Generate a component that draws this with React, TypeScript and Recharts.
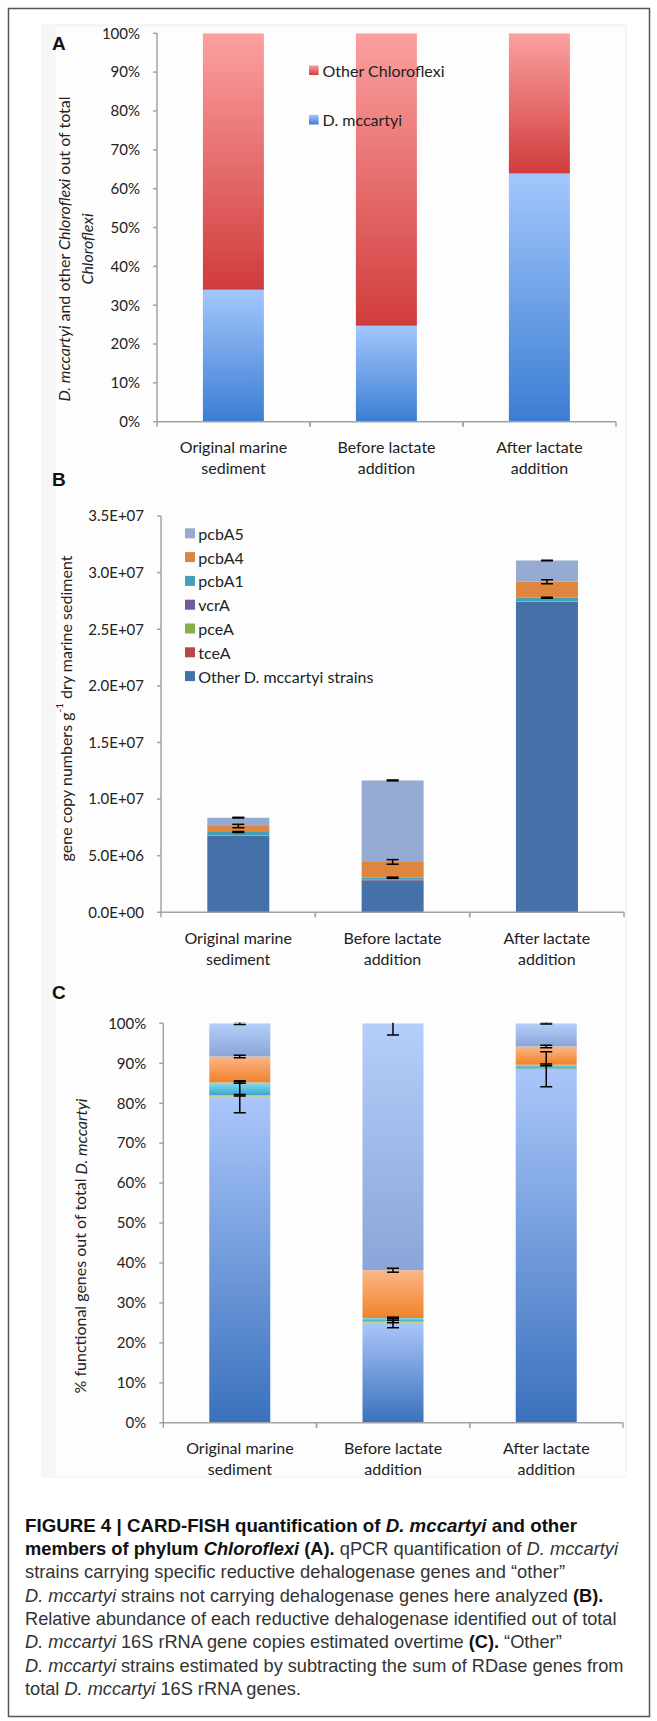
import React from "react";
import { BarChart, Bar, XAxis, YAxis, ErrorBar } from "recharts";

// ---- data ----
const categories = ["Original marine sediment", "Before lactate addition", "After lactate addition"];
const categoryLines = [
  ["Original marine", "sediment"],
  ["Before lactate", "addition"],
  ["After lactate", "addition"],
];

// A: share of total Chloroflexi (%)
const mccartyiPct = [34.0, 24.7, 63.9];
const otherChloroflexiPct = [66.0, 75.3, 36.1];
const pctTicks = [0, 10, 20, 30, 40, 50, 60, 70, 80, 90, 100];

// B: gene copy numbers per g dry marine sediment
const copiesOther = [6.78e6, 2.84e6, 27.43e6];
const copiesTceA = [0.01e6, 0.01e6, 0.02e6];
const copiesPceA = [0.03e6, 0.03e6, 0.05e6];
const copiesVcrA = [0, 0, 0];
const copiesPcbA1 = [0.27e6, 0.17e6, 0.28e6];
const copiesPcbA4 = [0.53e6, 1.4e6, 1.41e6];
const copiesPcbA5 = [0.74e6, 7.2e6, 1.88e6];
const errCopiesPcbA1 = [0.04e6, 0.05e6, 0.05e6];
const errCopiesPcbA4 = [0.15e6, 0.2e6, 0.18e6];
const errCopiesPcbA5 = [0.03e6, 0.04e6, 0.02e6];
const copyTicks = [0, 5e6, 1e7, 1.5e7, 2e7, 2.5e7, 3e7, 3.5e7];

// C: % of total D. mccartyi
const pctOther = [81.6, 25.0, 88.5];
const pctTceA = [0.05, 0.05, 0.05];
const pctPceA = [0.35, 0.3, 0.15];
const pctVcrA = [0, 0, 0];
const pctPcbA1 = [3.2, 0.9, 0.9];
const pctPcbA4 = [6.5, 11.95, 4.6];
const pctPcbA5 = [8.3, 61.8, 5.8];
const errPctOther = [4.0, 1.2, 4.4];
const errPctPceA = [0.2, 0.3, 0];
const errPctPcbA1 = [0.2, 0.2, 0.2];
const errPctPcbA4 = [0.3, 0.5, 0.3];
const errPctPcbA5 = [0.3, 2.9, 0.2];

const legendB = ["pcbA5", "pcbA4", "pcbA1", "vcrA", "pceA", "tceA", "Other D. mccartyi strains"];

// ---- layout ----
const PAGE_W = 657;
const Y_AXIS_W = 60;
const X_AXIS_H = 50;
const AXIS = "#a3a3a3";
const FONT = "Lato, 'Open Sans', sans-serif";

const boxA = { top: 0, height: 480, plotTop: 33.3, plotBottom: 421.7, plotLeft: 157, plotRight: 616 };
const boxB = { top: 480, height: 500, plotTop: 516, plotBottom: 912.3, plotLeft: 161, plotRight: 624 };
const boxC = { top: 980, height: 520, plotTop: 1023.3, plotBottom: 1422.8, plotLeft: 163.3, plotRight: 623 };

const margins = (b: any) => ({
  top: b.plotTop - b.top,
  left: b.plotLeft - Y_AXIS_W,
  right: PAGE_W - b.plotRight,
  bottom: b.top + b.height - b.plotBottom - X_AXIS_H,
});

const dataA = categories.map((cat, i) => ({ cat, mccartyi: mccartyiPct[i], other: otherChloroflexiPct[i] }));

const dataB = categories.map((cat, i) => ({
  cat,
  other: copiesOther[i],
  tceA: copiesTceA[i],
  pceA: copiesPceA[i],
  vcrA: copiesVcrA[i],
  pcbA1: copiesPcbA1[i],
  pcbA4: copiesPcbA4[i],
  pcbA5: copiesPcbA5[i],
  e_pcbA1: errCopiesPcbA1[i],
  e_pcbA4: errCopiesPcbA4[i],
  e_pcbA5: errCopiesPcbA5[i],
}));

const dataC = categories.map((cat, i) => ({
  cat,
  other: pctOther[i],
  tceA: pctTceA[i],
  pceA: pctPceA[i],
  vcrA: pctVcrA[i],
  pcbA1: pctPcbA1[i],
  pcbA4: pctPcbA4[i],
  pcbA5: pctPcbA5[i],
  e_other: errPctOther[i],
  e_pceA: errPctPceA[i],
  e_pcbA1: errPctPcbA1[i],
  e_pcbA4: errPctPcbA4[i],
  e_pcbA5: errPctPcbA5[i],
}));

const seriesA = [
  { key: "mccartyi", fill: "url(#gA_blue)" },
  { key: "other", fill: "url(#gA_red)" },
];

const colorsB: Record<string, string> = {
  other: "#4671a8",
  tceA: "#b84846",
  pceA: "#8bae4c",
  vcrA: "#725a9a",
  pcbA1: "#43a0b7",
  pcbA4: "#de853f",
  pcbA5: "#96abd1",
};
const legendKeysB = ["pcbA5", "pcbA4", "pcbA1", "vcrA", "pceA", "tceA", "other"];

const seriesB = [
  { key: "other", fill: colorsB.other },
  { key: "tceA", fill: colorsB.tceA },
  { key: "pceA", fill: colorsB.pceA },
  { key: "vcrA", fill: colorsB.vcrA },
  { key: "pcbA1", fill: colorsB.pcbA1, err: "e_pcbA1" },
  { key: "pcbA4", fill: colorsB.pcbA4, err: "e_pcbA4" },
  { key: "pcbA5", fill: colorsB.pcbA5, err: "e_pcbA5" },
];

const seriesC = [
  { key: "other", fill: "url(#gC_other)", err: "e_other" },
  { key: "tceA", fill: "#c05050" },
  { key: "pceA", fill: "#b9d36c", err: "e_pceA" },
  { key: "vcrA", fill: "#8a6cb0" },
  { key: "pcbA1", fill: "url(#gC_pcbA1)", err: "e_pcbA1" },
  { key: "pcbA4", fill: "url(#gC_pcbA4)", err: "e_pcbA4" },
  { key: "pcbA5", fill: "url(#gC_pcbA5)", err: "e_pcbA5" },
];

const fmtPct = (v: number) => `${v}%`;
const fmtExp = (v: number) => {
  const [m, e] = v.toExponential(1).split("e");
  return `${m}E${e[0]}${e.slice(1).padStart(2, "0")}`;
};

const grad = (id: string, top: string, bottom: string) => (
  <linearGradient id={id} x1="0" y1="0" x2="0" y2="1">
    <stop offset="0%" stopColor={top} />
    <stop offset="100%" stopColor={bottom} />
  </linearGradient>
);

const CategoryTick = ({ x, y, payload, band }: any) => {
  const i = categories.indexOf(payload.value);
  const lines = categoryLines[i] || [payload.value];
  return (
    <g>
      <line x1={x - band / 2} x2={x - band / 2} y1={y} y2={y + 5} stroke={AXIS} strokeWidth={1.5} />
      <line x1={x + band / 2} x2={x + band / 2} y1={y} y2={y + 5} stroke={AXIS} strokeWidth={1.5} />
      {lines.map((t: string, k: number) => (
        <text key={k} x={x} y={y + 25 + k * 21} textAnchor="middle" dominantBaseline="central"
          fontFamily={FONT} fontSize={16} fill="#222">
          {t}
        </text>
      ))}
    </g>
  );
};

function StackPanel({ box, data, series, ticks, format, layer, defs }: any) {
  const band = (box.plotRight - box.plotLeft) / categories.length;
  const axes = layer === "bars";
  const max = ticks[ticks.length - 1];
  // error bars are cut at the top of the plot, like the axis maximum does in the original
  const clip = axes ? undefined : `inset(${box.plotTop - box.top - 0.5}px 0px 0px 0px)`;
  return (
    <div style={{ position: "absolute", left: 0, top: box.top, clipPath: clip }}>
      <BarChart width={PAGE_W} height={box.height} data={data} margin={margins(box)} barCategoryGap="30%">
        {defs}
        <XAxis
          dataKey="cat"
          height={X_AXIS_H}
          interval={0}
          tickSize={0}
          tickMargin={0}
          tickLine={false}
          axisLine={axes ? { stroke: AXIS, strokeWidth: 1.5 } : false}
          tick={axes ? (p: any) => <CategoryTick {...p} band={band} /> : false}
        />
        <YAxis
          width={Y_AXIS_W}
          domain={[0, max]}
          allowDataOverflow
          ticks={ticks}
          interval={0}
          tickFormatter={format}
          tickSize={4}
          tickMargin={13}
          axisLine={axes ? { stroke: AXIS, strokeWidth: 1.5 } : false}
          tickLine={axes ? { stroke: AXIS, strokeWidth: 1.5 } : false}
          tick={axes ? { fill: "#222", fontSize: 15, fontFamily: FONT } : false}
        />
        {series.map((s: any) => (
          <Bar
            key={s.key}
            dataKey={s.key}
            stackId="s"
            fill={axes ? s.fill : "transparent"}
            isAnimationActive={false}
          >
            {!axes && s.err && (
              <ErrorBar dataKey={s.err} width={6} stroke="#000" strokeWidth={1.5} direction="y" isAnimationActive={false} />
            )}
          </Bar>
        ))}
      </BarChart>
    </div>
  );
}

const captionLines: any[] = [
  [
    { t: "FIGURE 4 | CARD-FISH quantification of ", b: true },
    { t: "D. mccartyi", b: true, i: true },
    { t: " and other", b: true },
  ],
  [
    { t: "members of phylum ", b: true },
    { t: "Chloroflexi", b: true, i: true },
    { t: " (A).", b: true },
    { t: " qPCR quantification of " },
    { t: "D. mccartyi", i: true },
  ],
  [{ t: "strains carrying specific reductive dehalogenase genes and \u201cother\u201d" }],
  [
    { t: "D. mccartyi", i: true },
    { t: " strains not carrying dehalogenase genes here analyzed " },
    { t: "(B).", b: true },
  ],
  [{ t: "Relative abundance of each reductive dehalogenase identified out of total" }],
  [
    { t: "D. mccartyi", i: true },
    { t: " 16S rRNA gene copies estimated overtime " },
    { t: "(C).", b: true },
    { t: " \u201cOther\u201d" },
  ],
  [
    { t: "D. mccartyi", i: true },
    { t: " strains estimated by subtracting the sum of RDase genes from" },
  ],
  [{ t: "total " }, { t: "D. mccartyi", i: true }, { t: " 16S rRNA genes." }],
];
const captionLengths = [552, 593, 540, 0, 0, 0, 0, 0];

export default function App() {
  const gradientsA = (
    <defs>
      {grad("gA_blue", "#a3c7fc", "#3b7dd3")}
      {grad("gA_red", "#fca0a0", "#d03c3c")}
    </defs>
  );
  const gradientsC = (
    <defs>
      {grad("gC_other", "#aac6fa", "#3a71bd")}
      {grad("gC_pcbA5", "#b5cffb", "#8aa5d7")}
      {grad("gC_pcbA4", "#fcb68a", "#f08328")}
      {grad("gC_pcbA1", "#8adcf2", "#38a6c8")}
    </defs>
  );

  return (
    <div style={{ position: "absolute", left: 0, top: 0, width: PAGE_W, height: 1721, background: "#fff" }}>
      <svg width={PAGE_W} height={1721} style={{ position: "absolute", left: 0, top: 0 }}>
        <rect x={41} y={24} width={586} height={1454} fill="#f6f6f6" />
        <rect x={56} y={27} width={569} height={1449} fill="#fdfdfd" />
        <rect x={8.5} y={8.5} width={641} height={1708} fill="none" stroke="#555" strokeWidth={1.5} />
      </svg>

      <StackPanel box={boxA} data={dataA} series={seriesA} ticks={pctTicks} format={fmtPct} layer="bars" defs={gradientsA} />

      <StackPanel box={boxB} data={dataB} series={seriesB} ticks={copyTicks} format={fmtExp} layer="bars" />
      <StackPanel box={boxB} data={dataB} series={seriesB} ticks={copyTicks} format={fmtExp} layer="errors" />

      <StackPanel box={boxC} data={dataC} series={seriesC} ticks={pctTicks} format={fmtPct} layer="bars" defs={gradientsC} />
      <StackPanel box={boxC} data={dataC} series={seriesC} ticks={pctTicks} format={fmtPct} layer="errors" />

      <svg width={PAGE_W} height={1721} style={{ position: "absolute", left: 0, top: 0, pointerEvents: "none" }}>
        {/* panel letters */}
        <g fontFamily="'Liberation Sans', Arial, sans-serif" fontWeight="bold" fontSize={19} fill="#111">
          <text x={52} y={49.5}>A</text>
          <text x={52} y={486}>B</text>
          <text x={52} y={999}>C</text>
        </g>

        {/* A legend */}
        <g fontFamily={FONT} fontSize={16} fill="#222">
          <rect x={309} y={65.4} width={9.6} height={9.6} fill="url(#gA_red)" />
          <text x={322.6} y={70.2} dominantBaseline="central">Other Chloroflexi</text>
          <rect x={309} y={114.9} width={9.6} height={9.6} fill="url(#gA_blue)" />
          <text x={322.6} y={119.7} dominantBaseline="central">D. mccartyi</text>
        </g>

        {/* B legend */}
        <g fontFamily={FONT} fontSize={16} fill="#222">
          {legendKeysB.map((k, i) => (
            <g key={k}>
              <rect x={185} y={533.3 + i * 23.8 - 5} width={10} height={10} fill={colorsB[k]} />
              <text x={198.3} y={533.3 + i * 23.8} dominantBaseline="central">{legendB[i]}</text>
            </g>
          ))}
        </g>

        {/* axis titles */}
        <g fontFamily={FONT} fontSize={16} fill="#222" style={{ whiteSpace: "pre" }}>
          <text x={63} y={249} textAnchor="middle" dominantBaseline="central" transform="rotate(-90 63 249)">
            <tspan fontStyle="italic">D. mccartyi</tspan>
            {" and  other "}
            <tspan fontStyle="italic">Chloroflexi</tspan>
            {" out of total"}
          </text>
          <text x={86} y={249} textAnchor="middle" dominantBaseline="central" transform="rotate(-90 86 249)" fontStyle="italic">
            Chloroflexi
          </text>
          <text x={65} y={708.5} textAnchor="middle" dominantBaseline="central" transform="rotate(-90 65 708.5)">
            {"gene copy numbers g"}
            <tspan dy={-6} fontSize={10}>-1</tspan>
            <tspan dy={6}>{" dry marine sediment"}</tspan>
          </text>
          <text x={79.6} y={1246} textAnchor="middle" dominantBaseline="central" transform="rotate(-90 79.6 1246)">
            {"% functional genes out of total "}
            <tspan fontStyle="italic">D. mccartyi</tspan>
          </text>
        </g>

        {/* caption */}
        <g fontFamily="'Liberation Sans', Arial, sans-serif" fontSize={18.2} style={{ whiteSpace: "pre" }}>
          {captionLines.map((parts, li) => (
            <text
              key={li}
              x={25}
              y={1531.7 + li * 23.33}
              {...(captionLengths[li] ? { textLength: captionLengths[li], lengthAdjust: "spacingAndGlyphs" } : {})}
            >
              {parts.map((p: any, k: number) => (
                <tspan
                  key={k}
                  fontWeight={p.b ? "bold" : "normal"}
                  fontStyle={p.i ? "italic" : "normal"}
                  fill={p.b ? "#111" : "#333"}
                >
                  {p.t}
                </tspan>
              ))}
            </text>
          ))}
        </g>
      </svg>
    </div>
  );
}
